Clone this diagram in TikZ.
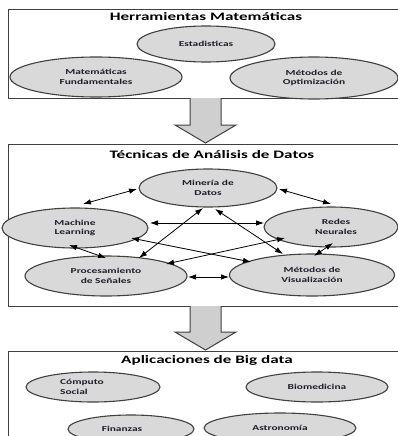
\documentclass[tikz,border=0pt]{standalone}
\usepackage{fontspec}
\setmainfont{Carlito}[FakeStretch=1.5]
\usetikzlibrary{shapes.geometric,arrows.meta}
\definecolor{ellfill}{HTML}{D9D9D9}
\definecolor{edge}{HTML}{404040}
\definecolor{txt}{HTML}{1E1E28}
\definecolor{arrfill}{HTML}{CFCFCF}
\begin{document}
\begin{tikzpicture}[x=1pt,y=-1pt,
 oval/.style={ellipse, draw=edge, line width=1.1pt, fill=ellfill, inner sep=0pt, text=txt,
   font=\fontsize{7.6}{9.3}\selectfont\bfseries, align=center},
 panel/.style={draw=edge, line width=1pt},
 ttl/.style={font=\fontsize{11.4}{13}\selectfont\bfseries, text=black, inner sep=0pt},
 arr/.style={{Latex[length=8pt,width=5.5pt]}-{Latex[length=8pt,width=5.5pt]}, line width=0.8pt, black},
 blockarrow/.style={draw=edge, line width=1pt, line join=miter}]
\useasboundingbox (0,0) rectangle (398,436);
\clip (0,0) rectangle (398,436);
\fill[white] (0,0) rectangle (398,436);

% panels
\draw[panel] (8,10) rectangle (404,98);
\draw[panel] (8,144) rectangle (404,306);
\draw[panel] (8,351) rectangle (404,444);

% block arrows
\fill[arrfill] (190,98) -- (190,125) -- (175,125) -- (205.5,143) -- (236,125) -- (221,125) -- (221,98) -- cycle;
\draw[blockarrow] (190,98) -- (190,125) -- (175,125) -- (205.5,143) -- (236,125) -- (221,125) -- (221,98);
\fill[arrfill] (190,306) -- (190,332) -- (175,332) -- (205.5,350) -- (236,332) -- (221,332) -- (221,306) -- cycle;
\draw[blockarrow] (190,306) -- (190,332) -- (175,332) -- (205.5,350) -- (236,332) -- (221,332) -- (221,306);

% titles
\node[ttl] (t1) at (206,17) {Herramientas Matemáticas};
\node[ttl] (t2) at (212,155) {Técnicas de Análisis de Datos};
\node[ttl] (t3) at (207,360) {Aplicaciones de Big data};

% panel 1
\node[oval, minimum width=138pt, minimum height=36pt] (est) at (206,44) {Estadisticas};
\node[oval, minimum width=172pt, minimum height=40pt] (mf) at (96,77) {Matemáticas\\Fundamentales};
\node[oval, minimum width=168pt, minimum height=42pt] (mo) at (314,78) {Métodos de\\Optimización};

% panel 2
\node[oval, minimum width=138pt, minimum height=38pt] (min) at (208,188) {Minería de\\Datos};
\node[oval, minimum width=146pt, minimum height=40pt] (ml) at (75,228) {Machine\\Learning};
\node[oval, minimum width=134pt, minimum height=40pt] (rn) at (331,227) {\hspace*{10pt}Redes\\\hspace*{10pt}Neurales};
\node[oval, minimum width=162pt, minimum height=40pt] (ps) at (106,276) {Procesamiento\\de Señales};
\node[oval, minimum width=165pt, minimum height=42pt] (mv) at (312,275) {Métodos de\\Visualización};

% panel 2 connectors
\draw[arr] ([shift={(-71,1)}]min.center) -- ([shift={(8,-24)}]ml.center);
\draw[arr] ([shift={(71,1)}]min.center) -- ([shift={(0,-23)}]rn.center);
\draw[arr] ([shift={(75,-5)}]ml.center) -- ([shift={(-67,-4)}]rn.center);
\draw[arr] ([shift={(-5,20)}]min.center) -- ([shift={(33,-18)}]ps.center);
\draw[arr] ([shift={(7,21)}]min.center) -- ([shift={(-29,-21)}]mv.center);
\draw[arr] ([shift={(56,10)}]ml.center) -- ([shift={(-61,-13)}]mv.center);
\draw[arr] ([shift={(-46,11)}]rn.center) -- ([shift={(60,-12)}]ps.center);
\draw[arr] ([shift={(-6,17)}]ml.center) -- ([shift={(0,-18)}]ps.center);
\draw[arr] ([shift={(2,16)}]rn.center) -- ([shift={(2,-19)}]mv.center);
\draw[arr] ([shift={(82,1)}]ps.center) -- ([shift={(-83,2)}]mv.center);

% panel 3
\node[oval, minimum width=134pt, minimum height=30pt, align=left] (cs) at (93,387) {Cómputo\hspace*{22pt}\\Social};
\node[oval, minimum width=142pt, minimum height=30pt] (bio) at (317,387) {Biomedicina};
\node[oval, minimum width=126pt, minimum height=28pt] (fin) at (131,429) {Finanzas\hspace*{18pt}};
\node[oval, minimum width=152pt, minimum height=30pt] (ast) at (280,428) {Astronomía};
\end{tikzpicture}
\end{document}
